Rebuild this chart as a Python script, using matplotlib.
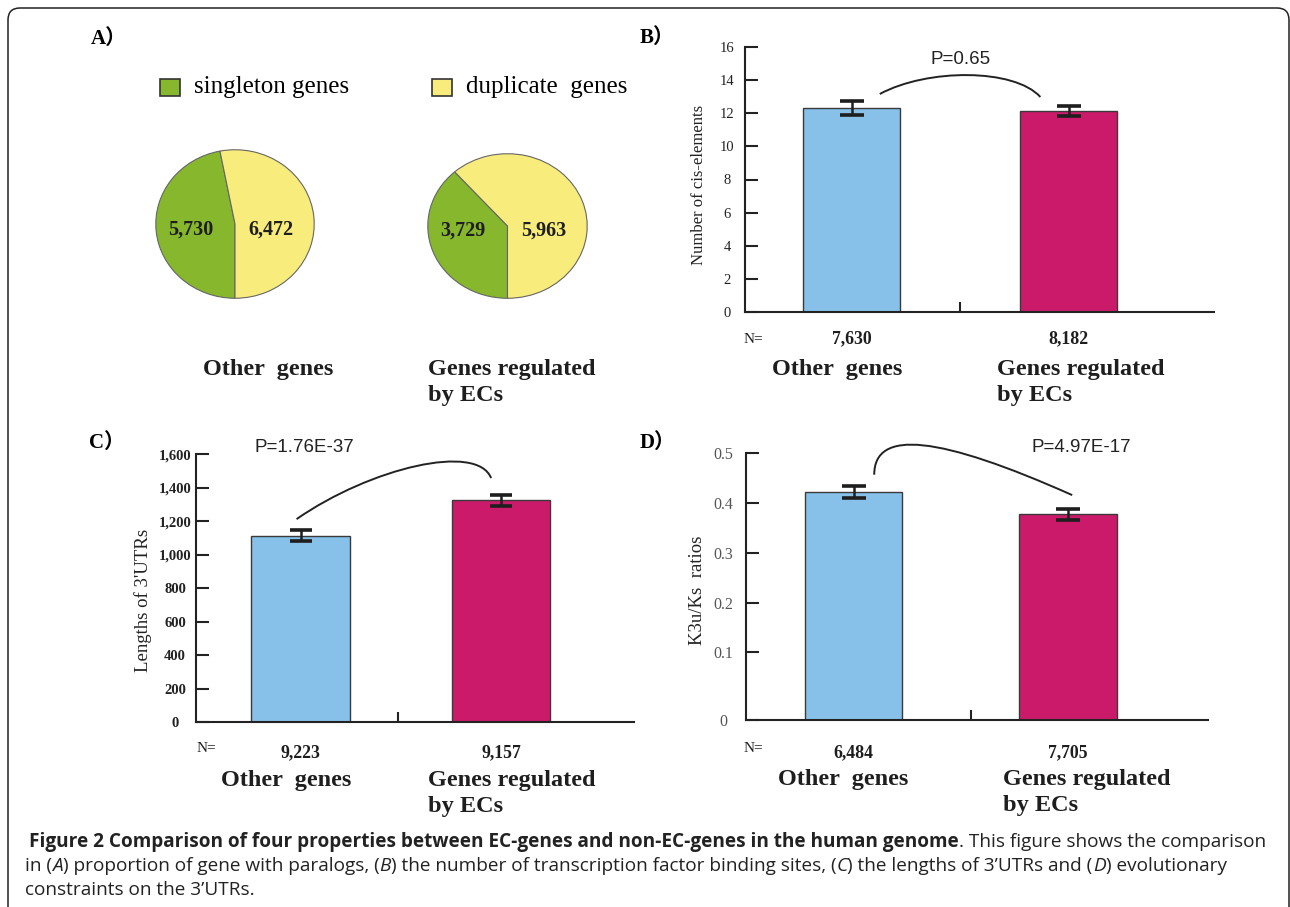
import numpy as np
import matplotlib
matplotlib.use('Agg')
import matplotlib.pyplot as plt
from matplotlib.patches import Rectangle, FancyBboxPatch, PathPatch
from matplotlib.path import Path
from matplotlib.transforms import IdentityTransform, blended_transform_factory

# ---- data ----
group_names = ['Other  genes', 'Genes regulated\nby ECs']
pie_series = ['singleton genes', 'duplicate  genes']
singleton_counts = [5730, 3729]
duplicate_counts = [6472, 5963]

cis_mean = [12.3, 12.15]
cis_err = [0.4, 0.3]
cis_n = [7630, 8182]
cis_p = 'P=0.65'

utr_mean = [1115, 1325]
utr_err = [35, 34]
utr_n = [9223, 9157]
utr_p = 'P=1.76E-37'

k3u_mean = [0.423, 0.377]
k3u_err = [0.012, 0.011]
k3u_n = [6484, 7705]
k3u_p = 'P=4.97E-17'

# ---- styling ----
W, H = 1290, 907
GREEN = '#86b72d'
YELLOW = '#f8ec7c'
BLUE = '#87c0e8'
MAGENTA = '#cc1a6a'
INK = '#1e1e1e'
SERIF = ['Liberation Serif', 'Noto Sans CJK SC']
SANS = ['Liberation Sans', 'DejaVu Sans']
CAT_SIZE = 17.5

fig = plt.figure(figsize=(W / 100, H / 100), dpi=100)


def box(x0, y0, x1, y1):
    # pixel box (top-left origin) -> figure fraction rect
    return [x0 / W, 1 - y1 / H, (x1 - x0) / W, (y1 - y0) / H]


def ftext(x, y, s, **kw):
    return fig.text(x / W, 1 - y / H, s, **kw)


def group_labels(x_first, x_second, base):
    # first name centred, second name left aligned, one text per line
    ftext(x_first, base, group_names[0], ha='center', va='baseline', fontsize=CAT_SIZE,
          fontweight='bold', family=SERIF, color=INK)
    for k, line in enumerate(group_names[1].split('\n')):
        ftext(x_second, base + 26 * k, line, ha='left', va='baseline', fontsize=CAT_SIZE,
              fontweight='bold', family=SERIF, color=INK)


# outer rounded frame
fig.add_artist(FancyBboxPatch((8, -40), 1281, 899 + 40, boxstyle='round,pad=0,rounding_size=12',
                              transform=IdentityTransform(), fc='none', ec='#222', lw=1.1))

# panel letters
for letter, (x, y) in zip('ABCD', [(91, 39), (640, 38), (89, 443), (640, 443)]):
    ftext(x, y, letter + '）', ha='left', va='center', fontsize=15, fontweight='bold', family=SERIF)

# ---- panel A: pies ----
for label, color, x in zip(pie_series, [GREEN, YELLOW], [160, 432]):
    fig.add_artist(Rectangle((x / W, 1 - 96 / H), 20 / W, 17 / H, transform=fig.transFigure,
                             fc=color, ec='#333', lw=1.2))
    ftext(x + 34, 87, label, ha='left', va='center', fontsize=18, family=SERIF)

pie_boxes = [(155, 149, 315, 299), (427, 153, 588, 299)]
label_x = [[-0.56, 0.45], [-0.56, 0.455]]
for i in range(2):
    ax = fig.add_axes(box(*pie_boxes[i]))
    vals = [singleton_counts[i], duplicate_counts[i]]
    ax.pie(vals, colors=[GREEN, YELLOW], startangle=270, counterclock=False,
           wedgeprops=dict(ec='#666', lw=0.8))
    ax.set_aspect('auto')
    ax.set_xlim(-1.01, 1.01)
    ax.set_ylim(-1.01, 1.01)
    for v, xo in zip(vals, label_x[i]):
        ax.text(xo, -0.07, f'{v:,}', ha='center', va='center', fontsize=14.5,
                fontweight='bold', family=SERIF, color=INK)

group_labels(268, 428, 375)


# ---- bar panels ----
def k3u_fwd(v):
    v = np.asarray(v, dtype=float)
    return np.where(v < 0.1, v * 677.0, 67.7 + (v - 0.1) * 497.5)


def k3u_inv(u):
    u = np.asarray(u, dtype=float)
    return np.where(u < 67.7, u / 677.0, 0.1 + (u - 67.7) / 497.5)


def bar_panel(px, xlim, width, mid, means, errs, ns, ptext, ptext_xy, arc, ylim, yticks, ylabels,
              tick_kw, tick_pad, ylabel, ylabel_xy, ylabel_size, cat_xy, n_xy, n_base, capsize, scale=None):
    ax = fig.add_axes(box(*px))
    if scale is not None:
        ax.set_yscale('function', functions=scale)
    xs = np.arange(len(means))
    ax.bar(xs, means, width=width, color=[BLUE, MAGENTA], edgecolor='#3a3a3a', linewidth=1.0, zorder=2)
    ax.errorbar(xs, means, yerr=errs, fmt='none', ecolor=INK, elinewidth=1.8, capsize=capsize,
                capthick=2.6, zorder=3)
    ax.set_xlim(*xlim)
    ax.set_ylim(*ylim)
    for s in ['top', 'right']:
        ax.spines[s].set_visible(False)
    for s in ['left', 'bottom']:
        ax.spines[s].set_linewidth(1.5)
        ax.spines[s].set_color('#222')
    ax.set_xticks([mid])
    ax.set_xticklabels([])
    ax.tick_params(axis='x', direction='in', length=7.5, width=1.5, color='#222')
    ax.set_yticks(yticks)
    ax.set_yticklabels(ylabels, ha='center', **tick_kw)
    ax.tick_params(axis='y', direction='in', length=9.5, width=1.5, color='#222', pad=tick_pad)
    ax.minorticks_off()

    # ylabel
    x0, y0, x1, y1 = px
    ax.set_ylabel(ylabel, fontsize=ylabel_size, family=SERIF, color='#222')
    ax.yaxis.label.set_va('center')
    ax.yaxis.set_label_coords((ylabel_xy[0] - x0) / (x1 - x0), 1 - (ylabel_xy[1] - y0) / (y1 - y0))

    # significance arc
    codes = [Path.MOVETO, Path.CURVE4, Path.CURVE4, Path.CURVE4]
    ax.add_patch(PathPatch(Path(arc, codes), fc='none', ec='#222', lw=1.4, clip_on=False))
    ftext(ptext_xy[0], ptext_xy[1], ptext, ha='center', va='center', fontsize=13.5, family=SANS, color='#222')

    # N= row and group names
    ftext(n_xy[0], n_xy[1], 'N=', ha='left', va='baseline', fontsize=11, family=SERIF, color=INK)
    tr = blended_transform_factory(ax.transData, fig.transFigure)
    for x, n in zip(xs, ns):
        ax.text(x, 1 - n_base / H, f'{n:,}', transform=tr, ha='center', va='baseline', fontsize=12.8,
                fontweight='bold', family=SERIF, color=INK)
    group_labels(*cat_xy)
    return ax


# B) number of cis-elements
bar_panel((745, 46.7, 1214, 312.3), (-0.491, 1.670), 0.447, 0.5, cis_mean, cis_err, cis_n,
          cis_p, (961, 60), [(0.13, 13.15), (0.35, 14.7), (0.75, 14.7), (0.87, 12.97)],
          (0, 16), np.arange(0, 17, 2), [str(v) for v in range(0, 17, 2)],
          dict(fontsize=10.5, family=SERIF, color='#222'), 13,
          'Number of cis-elements', (699, 185), 12, (837, 997, 375), (744, 343), 343, 8.5)

# C) lengths of 3'UTRs
bar_panel((196.5, 454.3, 633.5, 722.3), (-0.519, 1.66), 0.49, 0.486, utr_mean, utr_err, utr_n,
          utr_p, (304, 448), [(-0.02, 1213), (0.35, 1520), (0.88, 1670), (0.95, 1458)],
          (0, 1600), np.arange(0, 1601, 200), [f'{v:,}' for v in range(0, 1601, 200)],
          dict(fontsize=10.5, family=SERIF, color='#222', fontweight='bold'), 15.5,
          "Lengths of 3'UTRs", (143, 600), 13.5, (286, 428, 786), (197, 752), 757, 7.8)

# D) K3u/Ks ratios
bar_panel((745.7, 453.3, 1208, 720), (-0.504, 1.654), 0.455, 0.55, k3u_mean, k3u_err, k3u_n,
          k3u_p, (1081, 447), [(0.096, 0.457), (0.096, 0.55), (0.40, 0.535), (1.02, 0.416)],
          (0, 0.5), [0, 0.1, 0.2, 0.3, 0.4, 0.5], ['0', '0.1', '0.2', '0.3', '0.4', '0.5'],
          dict(fontsize=11.5, family=SERIF, color='#555'), 16,
          'K3u/Ks  ratios', (698, 590), 13.5, (843, 1003, 785), (744, 752), 757, 8.4,
          scale=(k3u_fwd, k3u_inv))

# ---- caption ----
renderer = fig.canvas.get_renderer()


def rich_line(x, y, parts, size=13.7):
    for s, style in parts:
        t = ftext(x, y, s, ha='left', va='baseline', fontsize=size, family=['Open Sans', 'DejaVu Sans'],
                  fontweight='bold' if style == 'b' else 'normal',
                  fontstyle='italic' if style == 'i' else 'normal', color='#222')
        x += t.get_window_extent(renderer).width


rich_line(29, 847, [('Figure 2 Comparison of four properties between EC-genes and non-EC-genes in the human genome', 'b'),
                    ('. This figure shows the comparison', 'r')])
rich_line(25, 871, [('in (', 'r'), ('A', 'i'), (') proportion of gene with paralogs, (', 'r'), ('B', 'i'),
                    (') the number of transcription factor binding sites, (', 'r'), ('C', 'i'),
                    (') the lengths of 3\u2019UTRs and (', 'r'), ('D', 'i'), (') evolutionary', 'r')])
rich_line(25, 895, [('constraints on the 3\u2019UTRs.', 'r')])

fig.savefig('out.png', dpi=100)
